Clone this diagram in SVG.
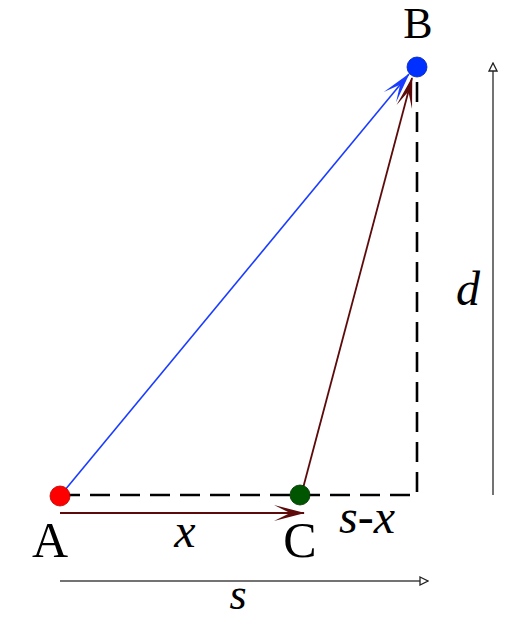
<svg xmlns="http://www.w3.org/2000/svg" width="514" height="620" viewBox="0 0 514 620">
<style>
.lbl{font-family:"Liberation Serif","DejaVu Serif",serif;fill:#000}
.it{font-style:italic}
.dash{fill:none;stroke:#000;stroke-width:2.6;stroke-dasharray:20 10}
.dim{fill:none;stroke:#444;stroke-width:1.5}
</style>
<defs>
<marker id="mBlue" viewBox="-32 -10 34 20" refX="0" refY="0" markerWidth="34" markerHeight="20" markerUnits="userSpaceOnUse" orient="auto">
<path d="M1,0 L-30,-8 L-14,0 L-30,8 z" fill="#1a3cff"/>
</marker>
<marker id="mRed" viewBox="-32 -10 34 20" refX="0" refY="0" markerWidth="34" markerHeight="20" markerUnits="userSpaceOnUse" orient="auto">
<path d="M1,0 L-30,-8 L-14,0 L-30,8 z" fill="#5c0a0a"/>
</marker>
<marker id="mOpen" viewBox="0 0 10 10" refX="9" refY="5" markerWidth="10" markerHeight="10" markerUnits="userSpaceOnUse" orient="auto">
<path d="M1,1 L9,5 L1,9 z" fill="#fff" stroke="#222" stroke-width="1.3"/>
</marker>
</defs>
<g id="connectors">
<path class="dash" d="M60,495 H417 V67"/>
<line x1="60" y1="496" x2="409" y2="74" stroke="#1a3cff" stroke-width="1.6" marker-end="url(#mBlue)"/>
<line x1="302" y1="492" x2="412" y2="78" stroke="#5c0a0a" stroke-width="1.8" marker-end="url(#mRed)"/>
<line x1="60" y1="513" x2="304" y2="513" stroke="#5c0a0a" stroke-width="2" marker-end="url(#mRed)"/>
<line class="dim" x1="493" y1="495" x2="493" y2="63" marker-end="url(#mOpen)"/>
<line class="dim" x1="60" y1="581" x2="428" y2="581" marker-end="url(#mOpen)"/>
</g>
<g id="A">
<circle cx="60" cy="496" r="10" fill="#ff0000" stroke="#b00" stroke-width="0.8"/>
<text class="lbl" x="50" y="557" font-size="50" text-anchor="middle">A</text>
</g>
<g id="B">
<circle cx="417" cy="67" r="10" fill="#0030ff" stroke="#0020b0" stroke-width="0.8"/>
<text class="lbl" x="418" y="38" font-size="44" text-anchor="middle">B</text>
</g>
<g id="C">
<circle cx="300" cy="495" r="10" fill="#005500" stroke="#003300" stroke-width="0.8"/>
<text class="lbl" x="300" y="557" font-size="50" text-anchor="middle">C</text>
</g>
<g id="labels">
<text class="lbl it" x="185" y="547" font-size="48" text-anchor="middle">x</text>
<text class="lbl it" x="367" y="533" font-size="48" text-anchor="middle">s-x</text>
<text class="lbl it" x="468" y="305" font-size="48" text-anchor="middle">d</text>
<text class="lbl it" x="238" y="609" font-size="44" text-anchor="middle">s</text>
</g>
</svg>
